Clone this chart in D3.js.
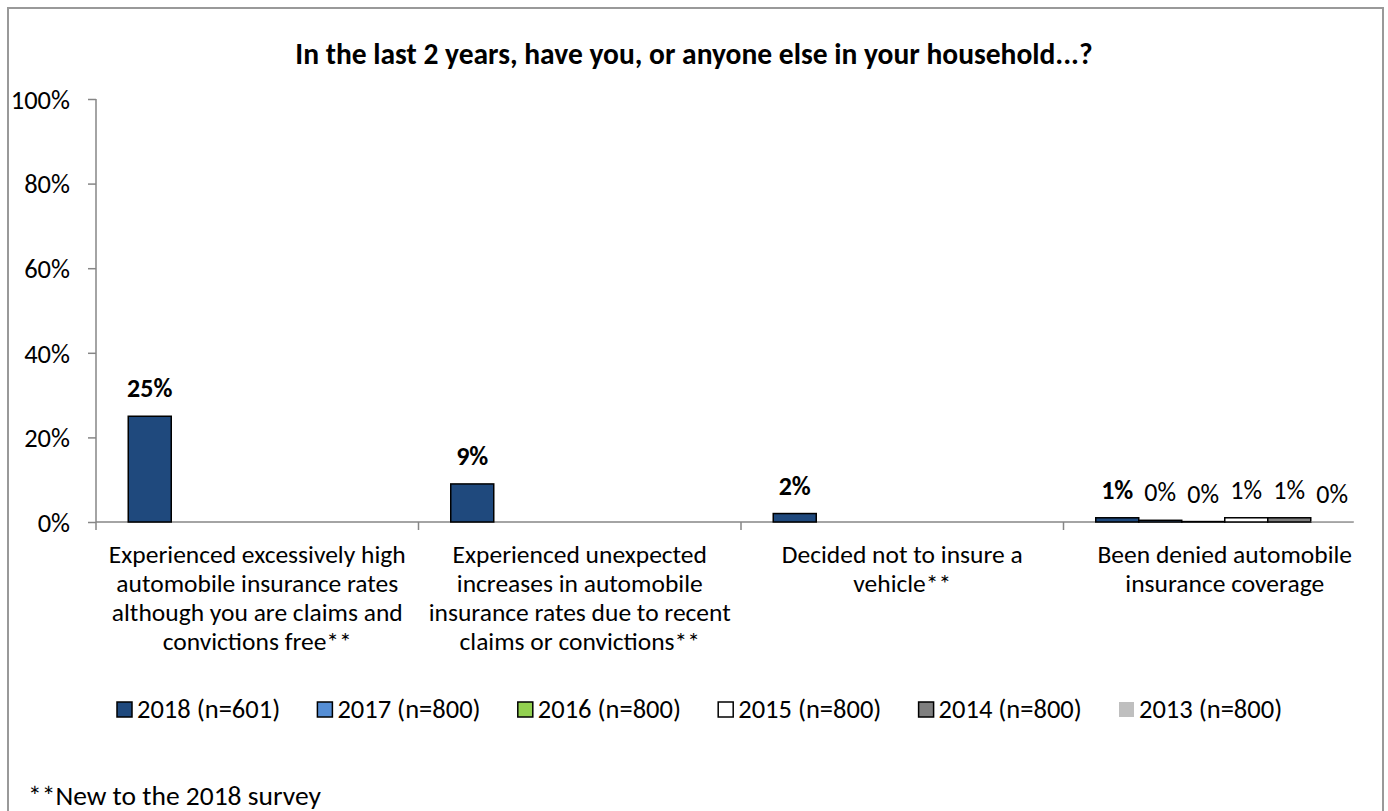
<!DOCTYPE html>
<html>
<head>
<meta charset="utf-8">
<script src="https://cdn.jsdelivr.net/npm/d3@7"></script>
<style>
  html, body { margin: 0; padding: 0; background: #fff; }
  svg { display: block; }
  text { font-family: Calibri, Carlito, Lato, "Open Sans", sans-serif; fill: #000; }
</style>
</head>
<body>
<svg id="chart" width="1388" height="811"></svg>
<script>
// Survey question and answer categories
const title = "In the last 2 years, have you, or anyone else in your household...?";
const categories = [
  ["Experienced excessively high", "automobile insurance rates", "although you are claims and", "convictions free**"],
  ["Experienced unexpected", "increases in automobile", "insurance rates due to recent", "claims or convictions**"],
  ["Decided not to insure a", "vehicle**"],
  ["Been denied automobile", "insurance coverage"]
];
const categoryKeys = ["c1", "c2", "c3", "c4"];

// Survey waves shown in the legend
const seriesNames = ["2018 (n=601)", "2017 (n=800)", "2016 (n=800)", "2015 (n=800)", "2014 (n=800)", "2013 (n=800)"];

// Percent of respondents per wave (null = question not asked that year)
const values2018 = [25, 9, 2, 1];
const values2017 = [null, null, null, 0.4];
const values2016 = [null, null, null, 0.1];
const values2015 = [null, null, null, 1];
const values2014 = [null, null, null, 1];
const values2013 = [null, null, null, 0.1];

const yTicks = [0, 20, 40, 60, 80, 100];
const footnote = "**New to the 2018 survey";

const seriesValues = [values2018, values2017, values2016, values2015, values2014, values2013];
const seriesFill = ["#1F497D", "#558ED5", "#92D050", "#FFFFFF", "#7F7F7F", "#BFBFBF"];
const seriesStroke = ["#000", "#000", "#000", "#000", "#000", "none"];

const svg = d3.select("#chart");

// outer frame
svg.append("rect")
  .attr("x", 8).attr("y", 8).attr("width", 1375).attr("height", 840)
  .attr("fill", "none").attr("stroke", "#999").attr("stroke-width", 2);

// title
svg.append("text")
  .attr("x", 694).attr("y", 64)
  .attr("text-anchor", "middle")
  .attr("font-size", 29.5).attr("font-weight", "bold")
  .text(title);

// scales
const y = d3.scaleLinear().domain([0, 100]).range([522, 99]);
const x0 = d3.scaleBand().domain(categoryKeys).range([96, 1386]).paddingInner(0).paddingOuter(0);
const x1 = d3.scaleBand().domain(seriesNames).range([0, x0.bandwidth()]).paddingInner(0).paddingOuter(0.75);

// y axis (line continues a little below zero like the category separators)
const yAxis = svg.append("g")
  .attr("transform", "translate(96,0)")
  .call(d3.axisLeft(y).tickValues(yTicks).tickSize(8).tickSizeOuter(0).tickPadding(18).tickFormat(d => d + "%"));
yAxis.attr("font-family", null);
yAxis.select(".domain").remove();
yAxis.append("line")
  .attr("x1", 0).attr("x2", 0).attr("y1", y(100)).attr("y2", y(0) + 8)
  .attr("stroke", "#868686").attr("stroke-width", 1.5);
yAxis.selectAll(".tick line").attr("stroke", "#868686").attr("stroke-width", 1.5);
yAxis.selectAll(".tick text").attr("font-size", 26.5).attr("dy", "0.35em");

// x axis line, ending at the last bar slot
const lastCat = categoryKeys[categoryKeys.length - 1];
const lastSeries = seriesNames[seriesNames.length - 1];
const xEnd = x0(lastCat) + x1(lastSeries) + x1.bandwidth();
svg.append("line")
  .attr("x1", x0.range()[0]).attr("x2", xEnd)
  .attr("y1", y(0)).attr("y2", y(0))
  .attr("stroke", "#868686").attr("stroke-width", 1.5);

// category separators
svg.append("g").selectAll("line")
  .data(categoryKeys.slice(1))
  .join("line")
  .attr("x1", d => x0(d)).attr("x2", d => x0(d))
  .attr("y1", y(0)).attr("y2", y(0) + 8)
  .attr("stroke", "#868686").attr("stroke-width", 1.5);

// bars
const rows = [];
categoryKeys.forEach((c, ci) => {
  seriesNames.forEach((s, si) => {
    const v = seriesValues[si][ci];
    if (v !== null) rows.push({ c, s, si, v });
  });
});

svg.append("g").selectAll("rect")
  .data(rows)
  .join("rect")
  .attr("x", d => x0(d.c) + x1(d.s))
  .attr("y", d => y(d.v))
  .attr("width", x1.bandwidth())
  .attr("height", d => y(0) - y(d.v))
  .attr("fill", d => seriesFill[d.si])
  .attr("stroke", d => seriesStroke[d.si])
  .attr("stroke-width", 1.5);

// value labels
svg.append("g").selectAll("text")
  .data(rows)
  .join("text")
  .attr("x", d => x0(d.c) + x1(d.s) + x1.bandwidth() / 2)
  .attr("y", d => y(d.v) - 19)
  .attr("text-anchor", "middle")
  .attr("font-size", 26)
  .attr("font-weight", d => d.si === 0 ? "bold" : "normal")
  .text(d => Math.round(d.v) + "%");

// category labels
const catG = svg.append("g").selectAll("text")
  .data(categoryKeys)
  .join("text")
  .attr("x", d => x0(d) + x0.bandwidth() / 2)
  .attr("y", 563)
  .attr("text-anchor", "middle")
  .attr("font-size", 25.5);
catG.selectAll("tspan")
  .data((d, i) => categories[i])
  .join("tspan")
  .attr("x", function () { return this.parentNode.getAttribute("x"); })
  .attr("dy", (d, i) => i === 0 ? 0 : 29)
  .text(d => d);

// legend
const legend = svg.append("g").selectAll("g")
  .data(seriesNames)
  .join("g")
  .attr("transform", (d, i) => `translate(${117 + i * 200.4},702)`);
legend.append("rect")
  .attr("width", 15).attr("height", 15)
  .attr("fill", (d, i) => seriesFill[i])
  .attr("stroke", (d, i) => seriesStroke[i])
  .attr("stroke-width", 1.5);
legend.append("text")
  .attr("x", 20).attr("y", 16)
  .attr("font-size", 26.5)
  .text(d => d);

// footnote
svg.append("text")
  .attr("x", 28).attr("y", 805)
  .attr("font-size", 27.5)
  .text(footnote);
</script>
</body>
</html>
